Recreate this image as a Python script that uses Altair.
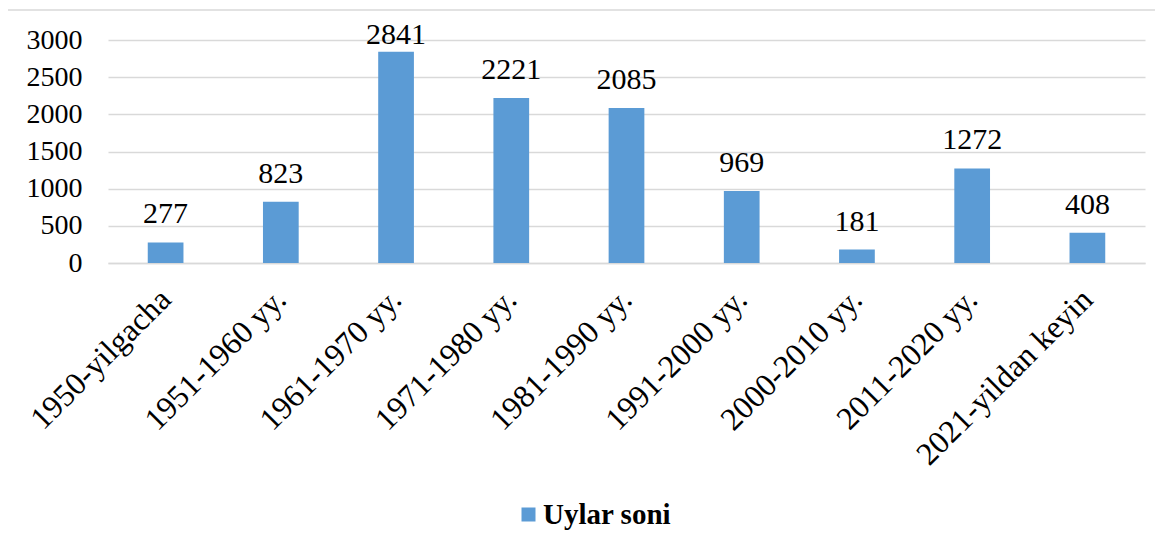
import altair as alt
import pandas as pd

categories = ["1950-yilgacha", "1951-1960 yy.", "1961-1970 yy.", "1971-1980 yy.",
              "1981-1990 yy.", "1991-2000 yy.", "2000-2010 yy.", "2011-2020 yy.",
              "2021-yildan keyin"]
values = [277, 823, 2841, 2221, 2085, 969, 181, 1272, 408]
series = "Uylar soni"
y_ticks = [0, 500, 1000, 1500, 2000, 2500, 3000]

df = pd.DataFrame({"cat": categories, "val": values, "series": [series] * len(values)})

FONT = "Liberation Serif"
W, H = 1037, 223

x_enc = alt.X("cat:N", sort=categories, title=None,
              scale=alt.Scale(paddingInner=0.69, paddingOuter=0.345),
              axis=alt.Axis(labelAngle=-45, labelAlign="right", labelBaseline="middle",
                            labelPadding=31, labelOffset=0, labelLimit=0, ticks=False,
                            labelFontSize=32, domain=True, grid=False))
y_enc = alt.Y("val:Q", title=None,
              scale=alt.Scale(domain=[0, 3000], nice=False),
              axis=alt.Axis(values=y_ticks, format="d", labelOverlap=False,
                            ticks=False, domain=False, grid=True, labelPadding=26))

base = alt.Chart(df)

bars = base.mark_bar(color="#5b9bd5").encode(
    x=x_enc,
    y=y_enc,
    color=alt.Color("series:N", scale=alt.Scale(range=["#5b9bd5"]),
                    legend=alt.Legend(title=None, orient="none", legendX=406, legendY=460,
                                      symbolType="square", symbolSize=196,
                                      symbolStrokeWidth=0, labelOffset=0, padding=0)),
)

# Excel keeps the tallest label inside the plot area, so its anchor is capped
labels = base.transform_calculate(
    ly="min(datum.val, 2690)"
).mark_text(fontSize=30, color="#000000", baseline="alphabetic", dy=-19).encode(
    x=x_enc,
    y=alt.Y("ly:Q", scale=alt.Scale(domain=[0, 3000], nice=False),
            axis=alt.Axis(values=y_ticks, format="d", labelOverlap=False,
                          ticks=False, domain=False, grid=True, labelPadding=26)),
    text="val:Q",
)

border = alt.Chart(pd.DataFrame({"a": [0]})).mark_rect(
    fill=None, stroke="#d9d9d9", strokeWidth=1.5).encode(
    x=alt.value(-101), x2=alt.value(1070), y=alt.value(-30), y2=alt.value(530))

chart = alt.layer(border, bars, labels).properties(
    width=W, height=H,
    padding={"left": 100, "top": 32, "right": 10, "bottom": 285},
    autosize=alt.AutoSizeParams(type="none"),
    background="#ffffff",
).configure(font=FONT).configure_view(stroke=None).configure_axis(
    labelFont=FONT, labelFontSize=28, labelColor="#000000",
    domainColor="#d9d9d9", domainWidth=1.5, gridColor="#d9d9d9", gridWidth=1.5,
).configure_legend(
    labelFont=FONT, labelFontSize=29, labelFontWeight="bold", labelColor="#000000",
).configure_text(font=FONT)

chart.save("out.html", embed_options={"renderer": "svg", "actions": False})
